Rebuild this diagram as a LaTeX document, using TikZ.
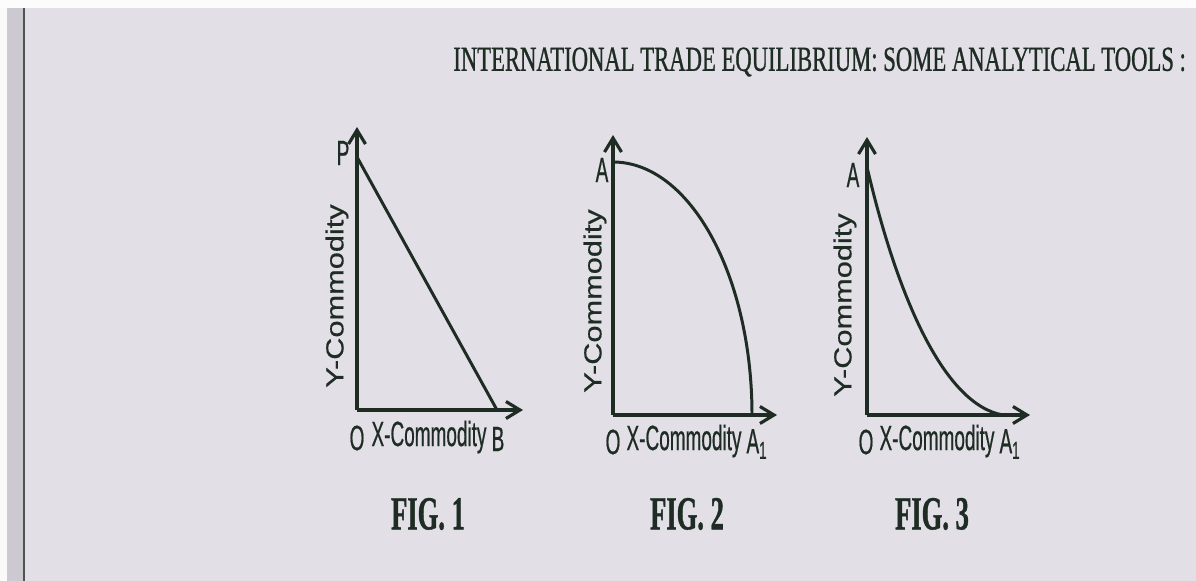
\documentclass[tikz,border=0pt]{standalone}
\usepackage{fontspec}
\setmainfont{Liberation Serif}
\newfontfamily\headfont[FakeStretch=0.645, FakeBold=0.8]{Liberation Serif}
\newfontfamily\figfont[FakeStretch=0.56, FakeBold=0.8]{Liberation Serif}
\newfontfamily\xaxfont[FakeStretch=0.54, FakeBold=0.5]{Liberation Sans}
\newfontfamily\yaxfont[FakeStretch=1.25, FakeBold=0.5]{Liberation Sans}
\usepackage{xcolor}
\usetikzlibrary{arrows.meta, positioning, calc}
\definecolor{paper}{RGB}{226,223,230}
\definecolor{ink}{RGB}{30,44,36}
\definecolor{edge}{RGB}{204,202,208}

\begin{document}
\begin{tikzpicture}[x=0.02cm, y=-0.02cm,
  axis/.style={draw=ink, line width=1.8pt, -{Straight Barb[length=2.8mm, width=3.4mm]}},
  curve/.style={draw=ink, line width=1.7pt},
  ylab/.style={rotate=90, text=ink, font=\yaxfont\fontsize{14}{14}\selectfont, inner sep=0pt},
  xlab/.style={text=ink, font=\xaxfont\fontsize{20}{20}\selectfont, inner sep=0pt},
  figlab/.style={text=ink, font=\figfont\bfseries\fontsize{27}{27}\selectfont, inner sep=0pt},
]
  \useasboundingbox (0,0) rectangle (1196,581);
  % page
  \fill[paper] (0,0) rectangle (1196,581);
  \fill[white!90!paper] (0,0) rectangle (1196,8);
  \fill[edge] (7,8) rectangle (24,581);
  \fill[white!85!paper] (0,8) rectangle (7,581);
  \draw[ink!80, line width=1.2pt] (24,8) -- (24,581);

  \node[anchor=west, text=ink, font=\headfont\fontsize{20}{20}\selectfont, inner sep=0pt] (title) at (453,62)
    {INTERNATIONAL TRADE EQUILIBRIUM: SOME ANALYTICAL TOOLS :};

  % Fig. 1
  \coordinate (o1) at (357,410);
  \coordinate (y1) at (357,127);
  \coordinate (x1) at (523,410);
  \coordinate (p1) at (357,157);
  \coordinate (b1) at (497,410);
  \draw[axis] (o1) -- (y1);
  \draw[axis] (o1) -- (x1);
  \draw[curve] (p1) -- (b1);
  \node[xlab] (lp1) at (343,153) {P};
  \node[ylab] (ly1) at (337,296) {Y-Commodity};
  \node[xlab] (lo1) at (357,438) {O};
  \node[xlab] (lx1) at (429,437) {X-Commodity};
  \node[xlab] (lb1) at (498,439) {B};
  \node[figlab] (f1) at (428,514) {FIG. 1};

  % Fig. 2
  \coordinate (o2) at (613,415);
  \coordinate (y2) at (613,135);
  \coordinate (x2) at (777,415);
  \coordinate (a2) at (613,162);
  \draw[axis] (o2) -- (y2);
  \draw[axis] (o2) -- (x2);
  \draw[curve] (a2) arc[start angle=-90, end angle=0, x radius=139, y radius=253];
  \node[xlab] (la2) at (602,170) {A};
  \node[ylab] (ly2) at (595,301) {Y-Commodity};
  \node[xlab] (lo2) at (613,442) {O};
  \node[xlab] (lx2) at (684,441) {X-Commodity};
  \node[xlab] (lb2) at (757,444) {A\textsubscript{1}};
  \node[figlab] (f2) at (687,514) {FIG. 2};

  % Fig. 3
  \coordinate (o3) at (867,415);
  \coordinate (y3) at (867,137);
  \coordinate (x3) at (1030,415);
  \coordinate (a3) at (867,167);
  \coordinate (c3) at (1003,415);
  \draw[axis] (o3) -- (y3);
  \draw[axis] (o3) -- (x3);
  \draw[curve] (a3) .. controls (898,300) and (945,405) .. (c3);
  \node[xlab] (la3) at (853,175) {A};
  \node[ylab] (ly3) at (845,305) {Y-Commodity};
  \node[xlab] (lo3) at (866,442) {O};
  \node[xlab] (lx3) at (937,441) {X-Commodity};
  \node[xlab] (lb3) at (1010,444) {A\textsubscript{1}};
  \node[figlab] (f3) at (932,514) {FIG. 3};
\end{tikzpicture}
\end{document}
